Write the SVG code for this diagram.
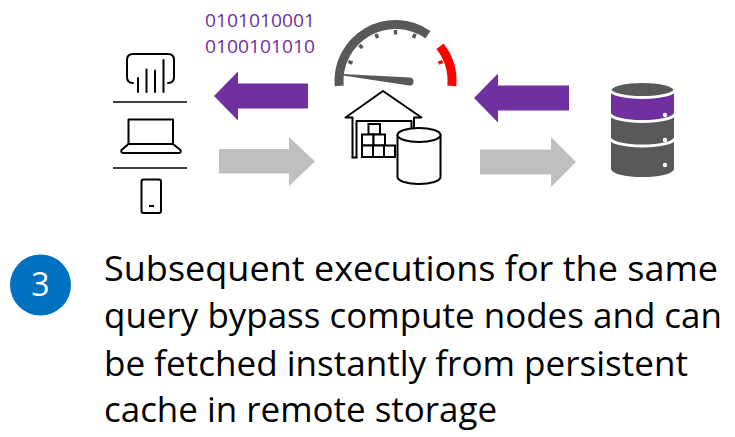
<svg xmlns="http://www.w3.org/2000/svg" width="735" height="437" viewBox="0 0 735 437">
  <style>
    .ln { fill: none; stroke: #000; stroke-width: 2; stroke-linejoin: round; stroke-linecap: round; }
    .box { fill: #fff; stroke: #000; stroke-width: 2; stroke-linejoin: miter; }
    .purple { fill: #7030A0; }
    .grey { fill: #BFBFBF; }
    .dark { fill: #595959; }
    .sep { fill: none; stroke: #fff; stroke-width: 3; }
    .tick { stroke-width: 3.5; stroke-linecap: butt; }
    .body { font-family: "Open Sans", "Noto Sans", "DejaVu Sans", sans-serif; font-size: 35px; fill: #000; }
    .bits { font-family: "Open Sans", "Noto Sans", "DejaVu Sans", sans-serif; font-size: 19px; fill: #7030A0; }
  </style>

  <!-- client devices: report, laptop, phone -->
  <g id="clients">
    <path class="ln" d="M133,83 Q127,83 127,77 L127,60 Q127,54 133,54 L168,54 Q174,54 174,60 L174,77 Q174,83 168,83"/>
    <line class="ln" x1="138" y1="92" x2="138" y2="78"/>
    <line class="ln" x1="146.5" y1="92" x2="146.5" y2="69.5"/>
    <line class="ln" x1="155" y1="92" x2="155" y2="70.5"/>
    <line class="ln" x1="163.5" y1="92" x2="163.5" y2="60"/>
    <line x1="113" y1="102" x2="187" y2="102" stroke="#000" stroke-width="1.6"/>
    <rect class="ln" x="128.5" y="119.5" width="44.5" height="24.5"/>
    <path class="ln" d="M128.5,144 L121.5,150 Q120.5,153 123.5,153 L178.5,153 Q181.5,153 180.5,150 L173,144"/>
    <line x1="113" y1="168" x2="187" y2="168" stroke="#000" stroke-width="1.6"/>
    <rect class="ln" x="141.5" y="179.5" width="19.5" height="33.5" rx="2"/>
    <line x1="149" y1="206" x2="154" y2="206" stroke="#000" stroke-width="2"/>
  </g>

  <!-- payload bits -->
  <g id="payload">
    <text class="bits" x="205" y="27" textLength="110" lengthAdjust="spacingAndGlyphs">0101010001</text>
    <text class="bits" x="205" y="53" textLength="110" lengthAdjust="spacingAndGlyphs">0100101010</text>
  </g>

  <!-- cache gauge -->
  <g id="gauge">
    <path d="M339.2,85.9 A56.5,56.5 0 0,1 427.9,34.7" fill="none" stroke="#595959" stroke-width="9"/>
    <path d="M440,46.2 A56.5,56.5 0 0,1 451.8,85.9" fill="none" stroke="#FF0000" stroke-width="9"/>
    <g class="tick" stroke="#595959">
      <line x1="348.4" y1="61.5" x2="352.5" y2="63.2"/>
      <line x1="359.4" y1="44.9" x2="362.5" y2="48.0"/>
      <line x1="375.9" y1="33.9" x2="377.6" y2="38.0"/>
      <line x1="395.5" y1="30" x2="395.5" y2="34.5"/>
      <line x1="415.1" y1="33.9" x2="413.4" y2="38.0"/>
    </g>
    <line class="tick" x1="442.6" y1="61.5" x2="438.5" y2="63.2" stroke="#FF0000"/>
    <path class="dark" d="M343,74 L409.9,77.5 A4,4 0 0,1 409.1,85.5 L343,75.6 Z"/>
  </g>

  <!-- warehouse with cache store -->
  <g id="warehouse">
    <path class="ln" d="M352.5,157.5 L352.5,117.5 L345.5,117.5 L383,91 L421.5,117.5 L414,117.5 L414,132"/>
    <path class="ln" d="M356.5,157.5 L356.5,121 L411.5,121 L411.5,132"/>
    <line class="ln" x1="352.5" y1="157.5" x2="356.5" y2="157.5"/>
    <rect class="box" x="368.5" y="124" width="11.5" height="10.5"/>
    <rect class="box" x="362" y="134.5" width="11.5" height="11"/>
    <rect class="box" x="373.5" y="134.5" width="11.5" height="11"/>
    <rect class="box" x="362" y="145.5" width="11" height="11.5"/>
    <rect class="box" x="373" y="145.5" width="11" height="11.5"/>
    <rect class="box" x="384" y="145.5" width="11" height="11.5"/>
    <path class="box" d="M397.5,135 L397.5,177 A21.5,7 0 0,0 440.5,177 L440.5,135 Z"/>
    <ellipse class="box" cx="419" cy="135" rx="21.5" ry="7"/>
  </g>

  <!-- remote storage -->
  <g id="storage">
    <path class="dark" d="M611,91 A31.5,8 0 0,1 674,91 L674,169 A31.5,8 0 0,1 611,169 Z"/>
    <path class="purple" d="M611,89 A31.5,8 0 0,0 674,89 L674,112 A31.5,8 0 0,1 611,112 Z"/>
    <path class="sep" d="M610,89.5 A32.5,8 0 0,0 675,89.5"/>
    <path class="sep" d="M610,113.5 A32.5,8 0 0,0 675,113.5"/>
    <path class="sep" d="M610,138 A32.5,8 0 0,0 675,138"/>
    <circle cx="665" cy="115" r="2.2" fill="#fff"/>
    <circle cx="665" cy="140" r="2.2" fill="#fff"/>
    <circle cx="665" cy="165" r="2.2" fill="#fff"/>
  </g>

  <!-- flow arrows -->
  <g id="connectors">
    <polygon class="purple" points="214,96 238,71.5 238,83.5 308,83.5 308,108.5 238,108.5 238,120.5"/>
    <polygon class="grey" points="219,149 289,149 289,137 315,161.5 289,186 289,173.5 219,173.5"/>
    <polygon class="purple" points="474,98 498,73.5 498,85.5 569,85.5 569,110.5 498,110.5 498,122.5"/>
    <polygon class="grey" points="480,149.5 551,149.5 551,137 576,162 551,187 551,174.5 480,174.5"/>
  </g>

  <!-- step badge -->
  <g id="step">
    <circle cx="40.5" cy="285" r="30.5" fill="#0070C0"/>
    <text x="40.5" y="296" text-anchor="middle" font-family="Open Sans, Noto Sans, sans-serif" font-size="32" fill="#fff">3</text>
  </g>

  <!-- description -->
  <g id="caption" class="body">
    <text x="104" y="281" textLength="614" lengthAdjust="spacingAndGlyphs">Subsequent executions for the same</text>
    <text x="104" y="328" textLength="618" lengthAdjust="spacingAndGlyphs">query bypass compute nodes and can</text>
    <text x="104" y="376" textLength="584" lengthAdjust="spacingAndGlyphs">be fetched instantly from persistent</text>
    <text x="104" y="422" textLength="393" lengthAdjust="spacingAndGlyphs">cache in remote storage</text>
  </g>
</svg>
